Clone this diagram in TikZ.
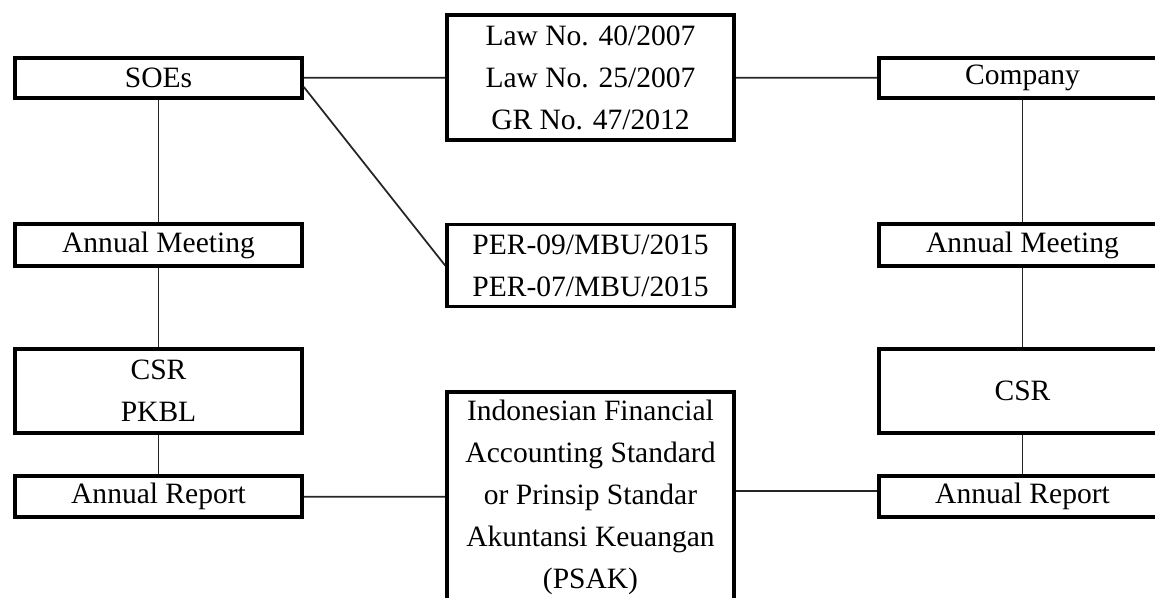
\documentclass[tikz,border=0pt]{standalone}
\usepackage{fontspec}
\setmainfont{Liberation Serif}
\usepackage{tikz}
\usetikzlibrary{calc,positioning}
\tikzset{box/.style={draw, line width=2.1pt, minimum width=5.74cm, inner sep=0pt, align=center, font=\fontsize{16.8}{23.9}\selectfont}}
\tikzset{
  link/.style={draw=black!85, line width=1pt}
}

\begin{document}
\begin{tikzpicture}
\clip (0,0) rectangle (23.1,11.96);

\node[box, minimum height=0.8cm](soe) at (3.17,10.40)
{SOEs};

\node[box, minimum height=0.84cm](aml) at (3.17,7.06)
{Annual Meeting};

\node[box, minimum height=1.68cm](csrl) at (3.17,4.14)
{CSR\\PKBL};

\node[box, minimum height=0.82cm](arl) at (3.17,2.03)
{Annual Report};

\node[box, minimum height=2.5cm](law) at (11.81,10.41)
{Law No. 40/2007\\Law No. 25/2007\\GR No. 47/2012};

\node[box, minimum height=1.64cm](per) at (11.81,6.65)
{PER-09/MBU/2015\\PER-07/MBU/2015};

\node[box, minimum height=4.2cm](psak) at (11.81,2.02)
{Indonesian Financial\\Accounting Standard\\or Prinsip Standar\\Akuntansi Keuangan\\(PSAK)};

\node[box, minimum height=0.8cm](co) at (20.45,10.40)
{Company};

\node[box, minimum height=0.84cm](amr) at (20.45,7.06)
{Annual Meeting};

\node[box, minimum height=1.68cm](csrr) at (20.45,4.14)
{CSR};

\node[box, minimum height=0.82cm](arr) at (20.45,2.03)
{Annual Report};

\draw[link] (soe) -- (aml);
\draw[link] (aml) -- (csrl);
\draw[link] (csrl) -- (arl);

\draw[link] (co) -- (amr);
\draw[link] (amr) -- (csrr);
\draw[link] (csrr) -- (arr);

\draw[link] (soe) -- (law);
\draw[link] (law) -- (co);
\draw[link] ($(soe.east)+(0,-0.18)$) -- (per.west);

\draw[link] (arl) -- (psak);
\draw[link] ($(psak.east)+(0,0.12)$) -- ($(arr.west)+(0,0.11)$);
\end{tikzpicture}
\end{document}
